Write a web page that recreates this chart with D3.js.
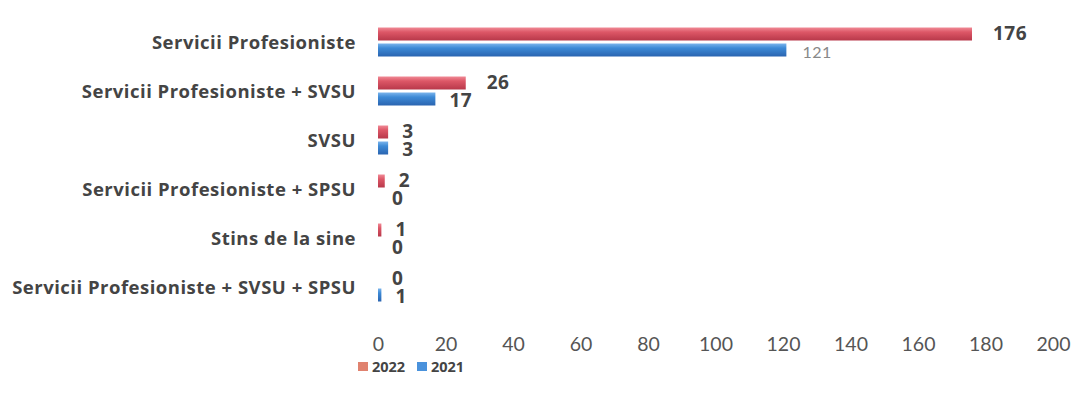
<!DOCTYPE html>
<html>
<head>
<meta charset="utf-8">
<script src="https://cdn.jsdelivr.net/npm/d3@7"></script>
<style>
body { margin: 0; background: #fff; }
</style>
</head>
<body>
<div id="chart"></div>
<script>
var categories = ["Servicii Profesioniste", "Servicii Profesioniste + SVSU", "SVSU",
	"Servicii Profesioniste + SPSU", "Stins de la sine", "Servicii Profesioniste + SVSU + SPSU"];
var years = ["2022", "2021"];
var values2022 = [176, 26, 3, 2, 1, 0];
var values2021 = [121, 17, 3, 0, 0, 1];
var xTicks = [0, 20, 40, 60, 80, 100, 120, 140, 160, 180, 200];

var svgWidth = 1080, svgHeight = 402;
var svg = d3.select("#chart").append("svg")
	.attr("width", svgWidth)
	.attr("height", svgHeight);

var OPEN = "'Open Sans', sans-serif";
var LATO = "Lato, sans-serif";

var defs = svg.append("defs");
function grad(id, stops) {
	var g = defs.append("linearGradient").attr("id", id)
		.attr("x1", 0).attr("y1", 0).attr("x2", 0).attr("y2", 1);
	stops.forEach(function(s) {
		g.append("stop").attr("offset", s[0]).attr("stop-color", s[1]);
	});
}
grad("gRed", [[0, "#f08a96"], [0.35, "#dd5767"], [1, "#b8384a"]]);
grad("gBlue", [[0, "#7ab4ec"], [0.35, "#3d8ad6"], [1, "#2a64b0"]]);

var x = d3.scaleLinear().domain([0, 200]).range([378, 1053]);
var y = d3.scaleBand().domain(categories).range([18, 312]);

var rows = categories.map(function(c, i) {
	return {cat: c, v22: values2022[i], v21: values2021[i]};
});

// category labels
svg.selectAll(".cat")
	.data(rows)
	.enter().append("text")
	.attr("x", 356)
	.attr("y", function(d) { return y(d.cat) + y.bandwidth() / 2 + 6; })
	.attr("text-anchor", "end")
	.style("font-family", OPEN)
	.style("letter-spacing", "0.5px")
	.attr("font-size", 18.5)
	.attr("font-weight", "bold")
	.attr("fill", "#444")
	.text(function(d) { return d.cat; });

var barH = 13;
// 2022 bars
svg.selectAll(".b22")
	.data(rows)
	.enter().append("rect")
	.attr("x", x(0))
	.attr("y", function(d) { return y(d.cat) + y.bandwidth() / 2 - barH - 2; })
	.attr("width", function(d) { return Math.max(x(d.v22) - x(0), d.v22 > 0 ? 3 : 0); })
	.attr("height", barH)
	.attr("fill", "url(#gRed)");

// 2021 bars
svg.selectAll(".b21")
	.data(rows)
	.enter().append("rect")
	.attr("x", x(0))
	.attr("y", function(d) { return y(d.cat) + y.bandwidth() / 2 + 1; })
	.attr("width", function(d) { return Math.max(x(d.v21) - x(0), d.v21 > 0 ? 3 : 0); })
	.attr("height", barH)
	.attr("fill", "url(#gBlue)");

// value labels
svg.selectAll(".l22")
	.data(rows)
	.enter().append("text")
	.attr("x", function(d) { return x(d.v22) + (d.v22 > 10 ? 21 : 14); })
	.attr("y", function(d) { return y(d.cat) + y.bandwidth() / 2 - 3; })
	.style("font-family", OPEN)
	.style("letter-spacing", "0.5px")
	.attr("font-size", 19)
	.attr("font-weight", "bold")
	.attr("fill", "#444")
	.text(function(d) { return d.v22; });

svg.selectAll(".l21")
	.data(rows)
	.enter().append("text")
	.attr("x", function(d) { return x(d.v21) + (d.v21 > 100 ? 16 : 14); })
	.attr("y", function(d) { return y(d.cat) + y.bandwidth() / 2 + 15; })
	.style("font-family", function(d) { return d.v21 > 100 ? LATO : OPEN; })
	.style("letter-spacing", "0.5px")
	.attr("font-size", function(d) { return d.v21 > 100 ? 16 : 19; })
	.attr("font-weight", function(d) { return d.v21 > 100 ? "normal" : "bold"; })
	.attr("fill", function(d) { return d.v21 > 100 ? "#888" : "#444"; })
	.text(function(d) { return d.v21; });

// x axis
var axis = svg.append("g")
	.attr("transform", "translate(0,337)")
	.call(d3.axisBottom(x).tickValues(xTicks).tickSize(0).tickPadding(0));
axis.select(".domain").remove();
axis.selectAll("text")
	.attr("font-size", 19.5)
	.attr("fill", "#555")
	.style("font-family", LATO);

// legend
var legend = svg.append("g").attr("transform", "translate(358,366)");
var legColors = ["#e0826f", "#4a92dc"];
years.forEach(function(yr, i) {
	var g = legend.append("g").attr("transform", "translate(" + (i * 59) + ",0)");
	g.append("rect").attr("x", 0).attr("y", -4).attr("width", 10).attr("height", 9)
		.attr("fill", legColors[i]);
	g.append("text").attr("x", 14).attr("y", 6)
		.style("font-family", OPEN)
		.attr("font-size", 14.5).attr("font-weight", "bold").attr("fill", "#444")
		.text(yr);
});
</script>
</body>
</html>
